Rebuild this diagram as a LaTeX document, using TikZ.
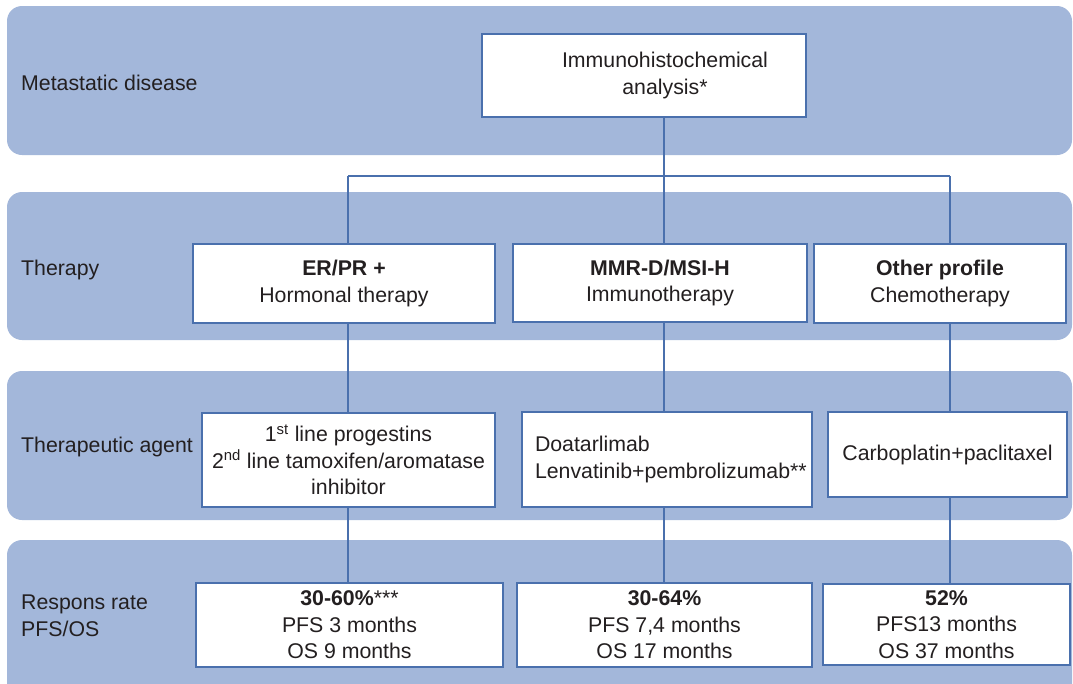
\documentclass[tikz,border=0pt]{standalone}
\usepackage{fontspec}
\setmainfont{Liberation Sans}
\definecolor{bandfill}{HTML}{A3B7DA}
\definecolor{boxline}{HTML}{4A70AD}
\definecolor{txt}{HTML}{231F20}
\begin{document}
\begin{tikzpicture}[x=1pt,y=-1pt,
  band/.style={fill=bandfill, draw=none, rounded corners=15pt},
  box/.style={draw=boxline, line width=2.6pt, fill=white, inner sep=0pt, align=center, text=txt,
    font=\fontsize{21.3}{26.5}\selectfont},
  lbl/.style={anchor=west, align=left, text=txt, inner sep=0pt, font=\fontsize{21.3}{26.5}\selectfont},
  conn/.style={draw=boxline, line width=2.4pt}]
\useasboundingbox (0,0) rectangle (1073,683);
\clip (0,0) rectangle (1073,683);
% bands
\path[band] (7,6) rectangle (1072,155);
\path[band] (7,192) rectangle (1072,340);
\path[band] (7,371) rectangle (1072,520);
\path[band] (7,540) rectangle (1072,700);
% row labels
\node[lbl] (l1) at (21,83) {Metastatic disease};
\node[lbl] (l2) at (21,270) {Therapy};
\node[lbl] (l3) at (21,447) {Therapeutic agent};
\node[lbl] (l4) at (21,616) {Respons rate\\PFS/OS};
% connector coordinates
\coordinate (cA) at (348,176);
\coordinate (cB) at (664,176);
\coordinate (cC) at (950,176);
% boxes
\node[box, minimum width=324pt, minimum height=83pt] (ihc) at (644,75.5) {\hspace*{42pt}Immunohistochemical\\\hspace*{42pt}analysis*};
\node[box, minimum width=302pt, minimum height=79pt] (erpr) at (344,283.5) {\textbf{ER/PR +}\\Hormonal therapy};
\node[box, minimum width=294pt, minimum height=78pt] (mmr) at (660,283) {\textbf{MMR-D/MSI-H}\\Immunotherapy};
\node[box, minimum width=252pt, minimum height=79pt] (oth) at (940,283.5) {\textbf{Other profile}\\Chemotherapy};
% connectors
\draw[conn] (ihc.south -| cB) -- (cB);
\draw[conn] (cA) -- (cC);
\draw[conn] (cA) -- (cA |- erpr.north);
\draw[conn] (cB) -- (cB |- mmr.north);
\draw[conn] (cC) -- (cC |- oth.north);
\node[box, minimum width=293pt, minimum height=94pt] (era) at (348.5,460) {1\textsuperscript{st} line progestins\\2\textsuperscript{nd} line tamoxifen/aromatase\\inhibitor};
\node[box, minimum width=290pt, minimum height=95pt, align=left, text width=264pt] (mmra) at (667,459.5) {Doatarlimab\\Lenvatinib+pembrolizumab**};
\node[box, minimum width=239pt, minimum height=85pt] (carb) at (947.5,454.5) {Carboplatin+paclitaxel};
\node[box, minimum width=307pt, minimum height=84pt] (err) at (349.5,625) {\textbf{30-60\%}***\\PFS 3 months\\OS 9 months};
\node[box, minimum width=295pt, minimum height=84pt] (mmrr) at (664.5,625) {\textbf{30-64\%}\\PFS 7,4 months\\OS 17 months};
\node[box, minimum width=247pt, minimum height=81pt] (othr) at (946.5,624.5) {\textbf{52\%}\\PFS13 months\\OS 37 months};
\draw[conn] (erpr.south -| cA) -- (era.north -| cA);
\draw[conn] (mmr.south -| cB) -- (mmra.north -| cB);
\draw[conn] (oth.south -| cC) -- (carb.north -| cC);
\draw[conn] (era.south -| cA) -- (err.north -| cA);
\draw[conn] (mmra.south -| cB) -- (mmrr.north -| cB);
\draw[conn] (carb.south -| cC) -- (othr.north -| cC);
\end{tikzpicture}
\end{document}
